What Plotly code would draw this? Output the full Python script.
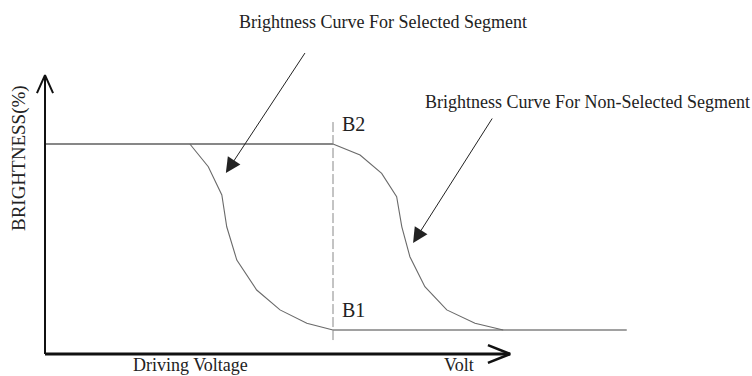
import plotly.graph_objects as go

# ---- data (voltage in arbitrary units, brightness in %) ----
sel_volt = [5.03, 5.67, 6.14, 6.31, 6.66, 7.35, 8.16, 9.09, 10.0]
sel_bright = [100, 87.8, 72.6, 55.5, 37.6, 21.5, 10.8, 3.6, 0]

nonsel_volt = [10.0, 10.94, 11.69, 12.21, 12.39, 12.67, 13.19, 13.95, 14.93, 15.91]
nonsel_bright = [100, 94.1, 84.2, 71.7, 55.5, 39.4, 23.3, 10.8, 3.6, 0]

top_volt = [0, 10.0]
top_bright = [100, 100]
bottom_volt = [10.0, 20.2]
bottom_bright = [0, 0]

threshold_volt = [10.0, 10.0]
threshold_bright = [111.8, -7.0]

axis_volt_max = 16.15
axis_bright_min = -12.9
axis_bright_max = 137.0

labels = {
    "sel": "Brightness Curve For Selected Segment",
    "nonsel": "Brightness Curve For Non-Selected Segment",
    "b2": "B2",
    "b1": "B1",
    "xlab": "Driving Voltage",
    "unit": "Volt",
    "ylab": "BRIGHTNESS(%)",
}

FONT = "Liberation Serif, Times New Roman, serif"
fig = go.Figure()

def line(x, y, color="#000", width=1, dash="solid"):
    fig.add_trace(go.Scatter(x=x, y=y, mode="lines", hoverinfo="skip",
                             line=dict(color=color, width=width, dash=dash),
                             showlegend=False))

# axes
line([0, 0], [axis_bright_min, axis_bright_max], "#111", 2)
line([0, axis_volt_max], [axis_bright_min, axis_bright_min], "#111", 3)
# arrowheads of the axes
line([-0.28, 0, 0.28], [127.4, axis_bright_max, 127.4], "#111", 2)
line([15.38, axis_volt_max, 15.38], [-8.1, axis_bright_min, -17.7], "#111", 2.5)

# curves
line(top_volt, top_bright, "#111", 1.2)
line(bottom_volt, bottom_bright, "#444", 1.2)
line(sel_volt, sel_bright, "#6a6a6a", 1.1)
line(nonsel_volt, nonsel_bright, "#6a6a6a", 1.1)
line(threshold_volt, threshold_bright, "#888", 1, "10px,3px")

annotations = [
    dict(x=6.28, y=84.4, ax=9.06, ay=149.7, axref="x", ayref="y",
         showarrow=True, arrowhead=2, arrowsize=3, arrowwidth=1, arrowcolor="#222", text=""),
    dict(x=12.78, y=46.8, ax=15.56, ay=114.5, axref="x", ayref="y",
         showarrow=True, arrowhead=2, arrowsize=3, arrowwidth=1, arrowcolor="#222", text=""),
    dict(x=11.74, y=165.6, text=labels["sel"], showarrow=False, font=dict(size=18)),
    dict(x=18.85, y=122.6, text=labels["nonsel"], showarrow=False, font=dict(size=18)),
    dict(x=10.24, y=110.7, text=labels["b2"], showarrow=False, xanchor="left", font=dict(size=20)),
    dict(x=10.24, y=10.75, text=labels["b1"], showarrow=False, xanchor="left", font=dict(size=20)),
    dict(x=5.05, y=-18.6, text=labels["xlab"], showarrow=False, font=dict(size=18)),
    dict(x=14.375, y=-18.6, text=labels["unit"], showarrow=False, font=dict(size=18)),
    dict(x=-0.90, y=92.5, text=labels["ylab"], showarrow=False, textangle=-90, font=dict(size=19)),
]
fig.update_layout(
    width=752, height=376,
    margin=dict(l=0, r=0, t=0, b=0),
    paper_bgcolor="white", plot_bgcolor="white",
    font=dict(family=FONT, color="#222"),
    xaxis=dict(range=[-1.5625, 24.5486], visible=False, fixedrange=True),
    yaxis=dict(range=[-24.73, 177.42], visible=False, fixedrange=True),
    annotations=annotations,
    showlegend=False,
)
fig.write_html("out.html", config={"displayModeBar": False},
               post_script="document.body.style.margin='0';document.body.style.overflow='hidden';")
